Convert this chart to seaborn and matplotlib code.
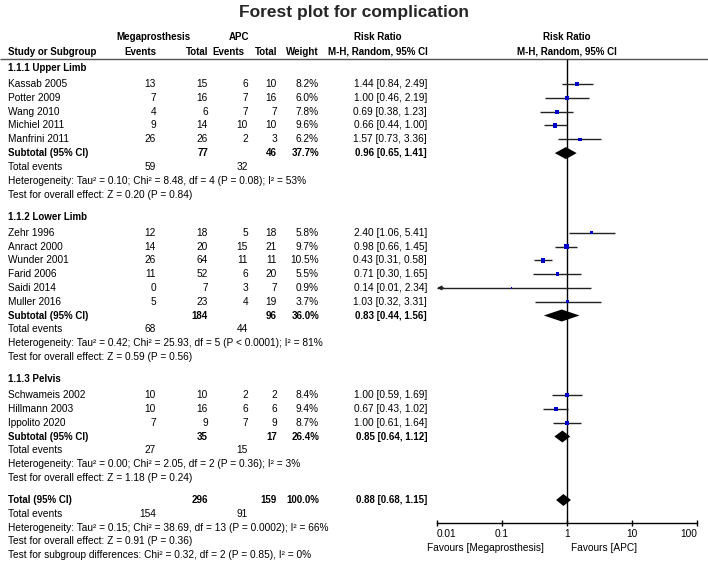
import numpy as np
import pandas as pd
import matplotlib.pyplot as plt
import seaborn as sns

# ---- data ----
groups = ['1.1.1 Upper Limb', '1.1.2 Lower Limb', '1.1.3 Pelvis']
studies = ['Kassab 2005', 'Potter 2009', 'Wang 2010', 'Michiel 2011', 'Manfrini 2011',
           'Zehr 1996', 'Anract 2000', 'Wunder 2001', 'Farid 2006', 'Saidi 2014', 'Muller 2016',
           'Schwameis 2002', 'Hillmann 2003', 'Ippolito 2020']
study_group = [0, 0, 0, 0, 0, 1, 1, 1, 1, 1, 1, 2, 2, 2]
mega_events = [13, 7, 4, 9, 26, 12, 14, 26, 11, 0, 5, 10, 10, 7]
mega_total = [15, 16, 6, 14, 26, 18, 20, 64, 52, 7, 23, 10, 16, 9]
apc_events = [6, 7, 7, 10, 2, 5, 15, 11, 6, 3, 4, 2, 6, 7]
apc_total = [10, 16, 7, 10, 3, 18, 21, 11, 20, 7, 19, 2, 6, 9]
weight = [8.2, 6.0, 7.8, 9.6, 6.2, 5.8, 9.7, 10.5, 5.5, 0.9, 3.7, 8.4, 9.4, 8.7]
rr = [1.44, 1.00, 0.69, 0.66, 1.57, 2.40, 0.98, 0.43, 0.71, 0.14, 1.03, 1.00, 0.67, 1.00]
rr_lo = [0.84, 0.46, 0.38, 0.44, 0.73, 1.06, 0.66, 0.31, 0.30, 0.01, 0.32, 0.59, 0.43, 0.61]
rr_hi = [2.49, 2.19, 1.23, 1.00, 3.36, 5.41, 1.45, 0.58, 1.65, 2.34, 3.31, 1.69, 1.02, 1.64]

sub_mega_events = [59, 68, 27]
sub_mega_total = [77, 184, 35]
sub_apc_events = [32, 44, 15]
sub_apc_total = [46, 96, 17]
sub_weight = [37.7, 36.0, 26.4]
sub_rr = [0.96, 0.83, 0.85]
sub_lo = [0.65, 0.44, 0.64]
sub_hi = [1.41, 1.56, 1.12]
sub_het = ['Heterogeneity: Tau² = 0.10; Chi² = 8.48, df = 4 (P = 0.08); I² = 53%',
           'Heterogeneity: Tau² = 0.42; Chi² = 25.93, df = 5 (P < 0.0001); I² = 81%',
           'Heterogeneity: Tau² = 0.00; Chi² = 2.05, df = 2 (P = 0.36); I² = 3%']
sub_z = ['Test for overall effect: Z = 0.20 (P = 0.84)',
         'Test for overall effect: Z = 0.59 (P = 0.56)',
         'Test for overall effect: Z = 1.18 (P = 0.24)']

tot_mega_events, tot_mega_total = 154, 296
tot_apc_events, tot_apc_total = 91, 159
tot_weight = 100.0
tot_rr, tot_lo, tot_hi = 0.88, 0.68, 1.15
tot_het = 'Heterogeneity: Tau² = 0.15; Chi² = 38.69, df = 13 (P = 0.0002); I² = 66%'
tot_z = 'Test for overall effect: Z = 0.91 (P = 0.36)'
tot_sub = 'Test for subgroup differences: Chi² = 0.32, df = 2 (P = 0.85), I² = 0%'

ticks = [0.01, 0.1, 1, 10, 100]

# ---- style ----
sns.set_style('white')
plt.rcParams['font.family'] = ['Liberation Sans', 'DejaVu Sans']
FS = 7.3     # regular text
FB = 7.0     # bold text

W, H = 708, 562
fig = plt.figure(figsize=(W / 100, H / 100), dpi=100)
bg = fig.add_axes([0, 0, 1, 1])
bg.set_xlim(0, W)
bg.set_ylim(H, 0)
bg.axis('off')

X0, X1 = 437, 697          # pixel extent of the log axis
AXIS_Y = 523
ax = fig.add_axes([X0 / W, 0, (X1 - X0) / W, 1])
ax.set_facecolor('none')
ax.set_xscale('log')

# column positions (right edges)
c_name, c_me, c_mt, c_ae, c_at, c_w, c_rr = 8, 156, 208, 248, 277, 319, 427
rr_head = 378


def txt(x, y, s, ha='left', bold=False):
    bg.text(x, y, s, ha=ha, va='center', fontsize=FB if bold else FS,
            fontweight='bold' if bold else 'normal', color='black')


# title + header
bg.text(W / 2, 12, 'Forest plot for complication', ha='center', va='center',
        fontsize=12.5, fontweight='bold')
txt(153, 37, 'Megaprosthesis', ha='center', bold=True)
txt(239, 37, 'APC', ha='center', bold=True)
txt(rr_head, 37, 'Risk Ratio', ha='center', bold=True)
txt(567, 37, 'Risk Ratio', ha='center', bold=True)
txt(c_name, 52, 'Study or Subgroup', bold=True)
txt(c_me, 52, 'Events', ha='right', bold=True)
txt(c_mt, 52, 'Total', ha='right', bold=True)
txt(c_ae - 4, 52, 'Events', ha='right', bold=True)
txt(c_at, 52, 'Total', ha='right', bold=True)
txt(c_w, 52, 'Weight', ha='right', bold=True)
txt(rr_head, 52, 'M-H, Random, 95% CI', ha='center', bold=True)
txt(567, 52, 'M-H, Random, 95% CI', ha='center', bold=True)
bg.hlines(59, 0, W, color='#555555', lw=1)

# ---- row layout ----
step = 13.8
y = 68
study_y = [0.0] * len(studies)
sub_y = []
for g, gname in enumerate(groups):
    txt(c_name, y, gname, bold=True)
    y += step + 2.3
    for i in [k for k, sg in enumerate(study_group) if sg == g]:
        study_y[i] = y
        txt(c_name, y, studies[i])
        txt(c_me, y, str(mega_events[i]), ha='right')
        txt(c_mt, y, str(mega_total[i]), ha='right')
        txt(c_ae, y, str(apc_events[i]), ha='right')
        txt(c_at, y, str(apc_total[i]), ha='right')
        txt(c_w, y, f'{weight[i]:.1f}%', ha='right')
        txt(c_rr, y, f'{rr[i]:.2f} [{rr_lo[i]:.2f}, {rr_hi[i]:.2f}]', ha='right')
        y += step
    sub_y.append(y)
    txt(c_name, y, 'Subtotal (95% CI)', bold=True)
    txt(c_mt, y, str(sub_mega_total[g]), ha='right', bold=True)
    txt(c_at, y, str(sub_apc_total[g]), ha='right', bold=True)
    txt(c_w, y, f'{sub_weight[g]:.1f}%', ha='right', bold=True)
    txt(c_rr, y, f'{sub_rr[g]:.2f} [{sub_lo[g]:.2f}, {sub_hi[g]:.2f}]', ha='right', bold=True)
    y += step
    txt(c_name, y, 'Total events')
    txt(c_me, y, str(sub_mega_events[g]), ha='right')
    txt(c_ae, y, str(sub_apc_events[g]), ha='right')
    y += step
    txt(c_name, y, sub_het[g])
    y += step
    txt(c_name, y, sub_z[g])
    y += step + 8.3

tot_y = y
txt(c_name, y, 'Total (95% CI)', bold=True)
txt(c_mt, y, str(tot_mega_total), ha='right', bold=True)
txt(c_at, y, str(tot_apc_total), ha='right', bold=True)
txt(c_w, y, f'{tot_weight:.1f}%', ha='right', bold=True)
txt(c_rr, y, f'{tot_rr:.2f} [{tot_lo:.2f}, {tot_hi:.2f}]', ha='right', bold=True)
y += step
txt(c_name, y, 'Total events')
txt(c_me, y, str(tot_mega_events), ha='right')
txt(c_ae, y, str(tot_apc_events), ha='right')
y += step
txt(c_name, y, tot_het)
y += step
txt(c_name, y, tot_z)
y += step
txt(c_name, y, tot_sub)

# ---- forest panel ----
df = pd.DataFrame({'rr': rr, 'lo': rr_lo, 'hi': rr_hi, 'w': weight, 'y': study_y})
xmin, xmax = ticks[0], ticks[-1]
ax.vlines(1, 59, AXIS_Y, color='black', lw=1, zorder=1)
for _, r in df.iterrows():
    lo = max(r['lo'], xmin)
    ax.hlines(r['y'], lo, r['hi'], color='#222222', lw=1, zorder=2)
    if r['lo'] <= xmin:
        # CI runs off the scale: arrow head at the left end
        ax.annotate('', xy=(xmin, r['y']), xytext=(xmin * 1.25, r['y']),
                    arrowprops=dict(arrowstyle='-|>', color='#222222', lw=1,
                                    mutation_scale=6, shrinkA=0, shrinkB=0))
sns.scatterplot(data=df, x='rr', y='y', size='w', sizes=(0, 11), size_norm=(0, 10.5),
                marker='s', color='#0000cc', linewidth=0, legend=False, ax=ax, zorder=3)

dh = 6
for est, lo, hi, yy in zip(sub_rr + [tot_rr], sub_lo + [tot_lo], sub_hi + [tot_hi], sub_y + [tot_y]):
    ax.fill([lo, est, hi, est], [yy, yy - dh, yy, yy + dh], color='black', lw=0, zorder=3)

ax.set_xlim(xmin, xmax)
ax.set_ylim(H, 0)
ax.set_xlabel('')
ax.set_ylabel('')
for s in ['left', 'right', 'top']:
    ax.spines[s].set_visible(False)
ax.spines['bottom'].set_position(('data', AXIS_Y))
ax.spines['bottom'].set_color('black')
ax.spines['bottom'].set_linewidth(1)
ax.set_yticks([])
ax.set_xticks(ticks)
ax.set_xticklabels(['0.01', '0.1', '1', '10', '100'])
ax.minorticks_off()
ax.tick_params(axis='x', direction='inout', length=5, width=1, pad=1.5,
               labelsize=FS, bottom=True, colors='black')
labs = ax.get_xticklabels()
labs[0].set_horizontalalignment('left')
labs[-1].set_horizontalalignment('right')

txt(544, 548, 'Favours [Megaprosthesis]', ha='right')
txt(571, 548, 'Favours [APC]')

fig.savefig('out.png', dpi=100)
